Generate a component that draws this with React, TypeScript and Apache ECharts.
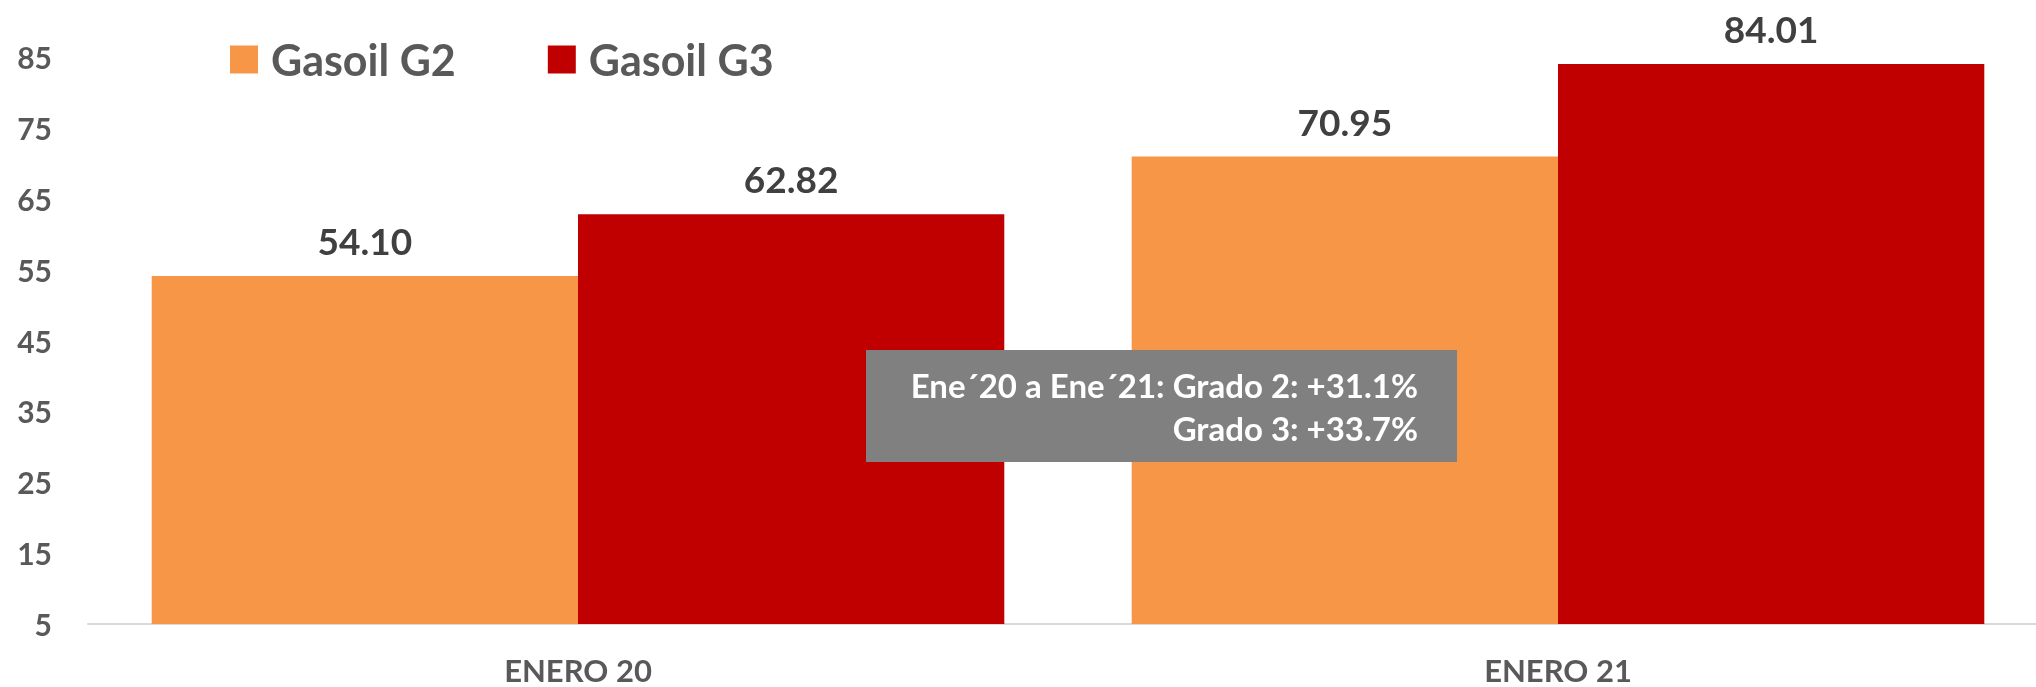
import React, { useEffect, useRef } from "react";
import * as echarts from "echarts";

const categories = ["ENERO 20", "ENERO 21"];
const seriesNames = ["Gasoil G2", "Gasoil G3"];
const g2Values = [54.1, 70.95];
const g3Values = [62.82, 84.01];
const yTicks = { min: 5, max: 85, interval: 10 };
const noteLines = ["Ene´20 a Ene´21: Grado 2: +31.1%", "Grado 3: +33.7%"];

const FONT = "Lato, 'Open Sans', sans-serif";

export default function App() {
  const ref = useRef<HTMLDivElement>(null);
  useEffect(() => {
    if (!ref.current) return;
    const chart = echarts.init(ref.current, undefined, { renderer: "svg" });
    const labelStyle = {
      show: true,
      position: "top" as const,
      distance: 17,
      fontFamily: FONT,
      fontWeight: "bold" as const,
      fontSize: 37,
      lineHeight: 37,
      color: "#404040",
      formatter: (p: any) => Number(p.value).toFixed(2),
    };
    chart.setOption({
      animation: false,
      textStyle: { fontFamily: FONT },
      legend: {
        left: 225,
        top: 33,
        icon: "rect",
        itemWidth: 28,
        itemHeight: 28,
        itemGap: 92,
        data: seriesNames,
        textStyle: {
          fontFamily: FONT,
          fontWeight: "bold",
          fontSize: 43,
          color: "#595959",
          padding: [0, 0, 0, 8],
        },
      },
      grid: { left: 88, right: 0, top: 57, bottom: 63 },
      xAxis: {
        type: "category",
        data: categories,
        axisTick: { show: false },
        axisLine: { lineStyle: { color: "#D9D9D9", width: 2 } },
        axisLabel: {
          margin: 30,
          fontFamily: FONT,
          fontWeight: "bold",
          fontSize: 31,
          color: "#595959",
        },
      },
      yAxis: {
        type: "value",
        min: yTicks.min,
        max: yTicks.max,
        interval: yTicks.interval,
        axisLine: { show: false },
        axisTick: { show: false },
        splitLine: { show: false },
        axisLabel: {
          margin: 36,
          fontFamily: FONT,
          fontWeight: "bold",
          fontSize: 30,
          color: "#595959",
        },
      },
      series: [
        {
          name: seriesNames[0],
          type: "bar",
          data: g2Values,
          barGap: "0%",
          barCategoryGap: "13%",
          itemStyle: { color: "#F79646" },
          label: labelStyle,
        },
        {
          name: seriesNames[1],
          type: "bar",
          data: g3Values,
          barGap: "0%",
          barCategoryGap: "13%",
          itemStyle: { color: "#C00000" },
          label: labelStyle,
        },
      ],
      graphic: [
        {
          type: "rect",
          left: 866,
          top: 350,
          shape: { width: 591, height: 112 },
          style: { fill: "#808080" },
          z: 10,
        },
        {
          type: "text",
          x: 1418,
          y: 385,
          z: 11,
          style: {
            text: noteLines[0],
            fill: "#FFFFFF",
            font: `bold 33px ${FONT}`,
            textAlign: "right",
            textVerticalAlign: "middle",
          },
        },
        {
          type: "text",
          x: 1418,
          y: 428,
          z: 11,
          style: {
            text: noteLines[1],
            fill: "#FFFFFF",
            font: `bold 33px ${FONT}`,
            textAlign: "right",
            textVerticalAlign: "middle",
          },
        },
      ],
    });
    return () => chart.dispose();
  }, []);
  return (
    <div
      style={{
        position: "fixed",
        left: 0,
        top: 0,
        width: 2036,
        height: 687,
        overflow: "hidden",
      }}
    >
      <div ref={ref} style={{ width: 2048, height: 687 }} />
    </div>
  );
}
